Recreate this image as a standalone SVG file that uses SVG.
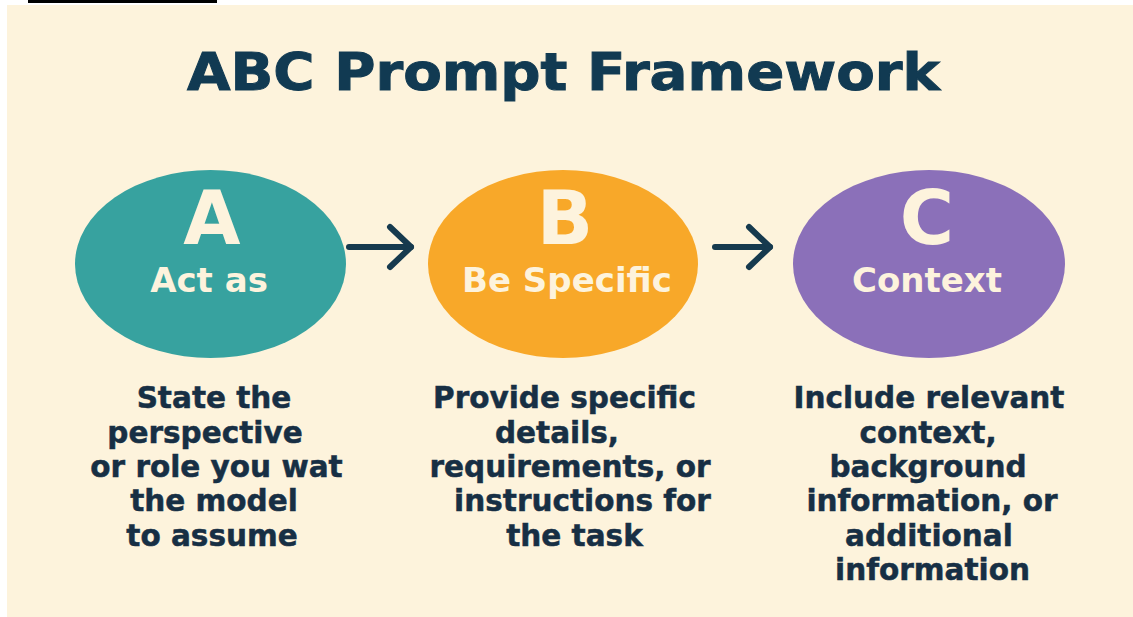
<svg xmlns="http://www.w3.org/2000/svg" width="1133" height="617" viewBox="0 0 1133 617">
  <defs>
    <style>
      .title { font-family: "DejaVu Sans", "Liberation Sans", sans-serif; font-weight: bold; font-size: 51px; fill: #113a52; stroke: #113a52; stroke-width: 1; }
      .letter { font-family: "DejaVu Sans", "Liberation Sans", sans-serif; font-weight: bold; font-size: 74px; fill: #fdf3dd; text-anchor: middle; }
      .name { font-family: "DejaVu Sans", "Liberation Sans", sans-serif; font-weight: bold; font-size: 34px; fill: #fdf3dd; text-anchor: middle; }
      .body { font-family: "DejaVu Sans", "Liberation Sans", sans-serif; font-weight: bold; font-size: 29.5px; fill: #172f44; stroke: #172f44; stroke-width: 0.5; text-anchor: middle; }
      .conn { stroke: #163a4e; stroke-width: 6; fill: none; stroke-linecap: round; }
    </style>
    <marker id="chev" viewBox="0 0 30 50" refX="25" refY="25" markerWidth="30" markerHeight="50" markerUnits="userSpaceOnUse" orient="auto">
      <path d="M4,5 L25,25 L4,45" fill="none" stroke="#163a4e" stroke-width="6" stroke-linecap="round" stroke-linejoin="round"/>
    </marker>
  </defs>

  <rect x="0" y="0" width="1133" height="617" fill="#ffffff"/>
  <rect x="7" y="5" width="1126" height="612" fill="#fdf3dc"/>
  <rect x="28" y="0" width="189" height="3" fill="#000000"/>

  <g id="title">
    <text class="title" x="187" y="90" textLength="753" lengthAdjust="spacingAndGlyphs">ABC Prompt Framework</text>
  </g>

  <g id="node-a">
    <ellipse cx="210.5" cy="264" rx="135.5" ry="94" fill="#37a29f"/>
    <text class="letter" x="212" y="244">A</text>
    <text class="name" x="209" y="292">Act as</text>
    <text class="body" x="214" y="408">State the</text>
    <text class="body" x="205" y="442.5">perspective</text>
    <text class="body" x="216.5" y="477">or role you wat</text>
    <text class="body" x="214" y="511">the model</text>
    <text class="body" x="212" y="545.5">to assume</text>
  </g>

  <g id="node-b">
    <ellipse cx="563" cy="264" rx="135" ry="94" fill="#f8a829"/>
    <text class="letter" x="565" y="244">B</text>
    <text class="name" x="567" y="292">Be Specific</text>
    <text class="body" x="564.5" y="408">Provide specific</text>
    <text class="body" x="557" y="442.5">details,</text>
    <text class="body" x="570" y="477">requirements, or</text>
    <text class="body" x="582.5" y="511">instructions for</text>
    <text class="body" x="574.5" y="545.5">the task</text>
  </g>

  <g id="node-c">
    <ellipse cx="929" cy="264" rx="136" ry="94" fill="#8b70b9"/>
    <text class="letter" x="927" y="244">C</text>
    <text class="name" x="927" y="292">Context</text>
    <text class="body" x="929" y="408">Include relevant</text>
    <text class="body" x="928" y="442.5">context,</text>
    <text class="body" x="928" y="477">background</text>
    <text class="body" x="932" y="511">information, or</text>
    <text class="body" x="929" y="545.5">additional</text>
    <text class="body" x="932.5" y="580">information</text>
  </g>

  <g id="connectors">
    <line class="conn" x1="349" y1="247" x2="411" y2="247" marker-end="url(#chev)"/>
    <line class="conn" x1="715" y1="247" x2="770" y2="247" marker-end="url(#chev)"/>
  </g>
</svg>
